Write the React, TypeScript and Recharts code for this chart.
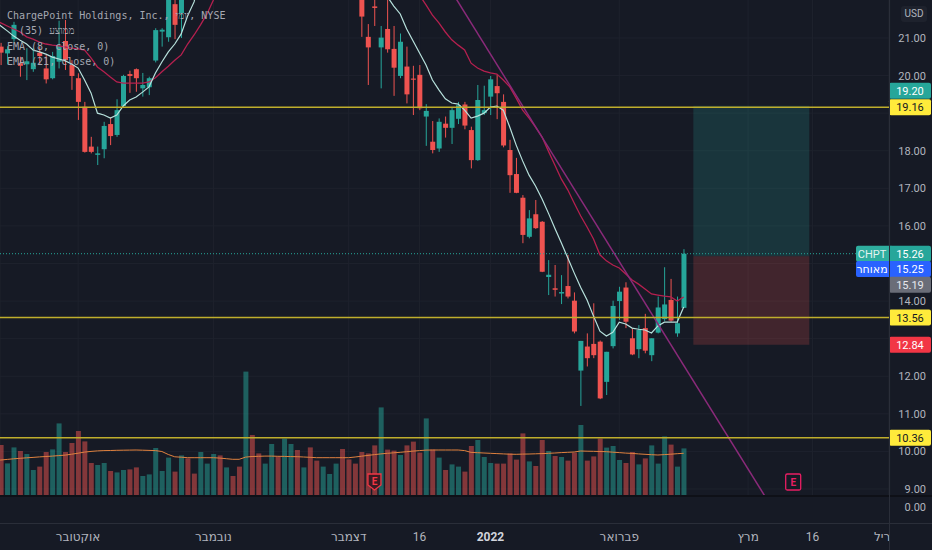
import React from "react";
import {
  ComposedChart,
  Bar,
  Line,
  XAxis,
  YAxis,
  CartesianGrid,
  ReferenceLine,
  ReferenceArea,
  ReferenceDot,
  Cell,
  Tooltip,
} from "recharts";

const BG = "#161a25";
const UP = "#26a69a";
const DOWN = "#ef5350";
const TEXT = "#b2b5be";
const GRID = "#1e222d";
const BORDER = "#2a2e39";
const LEVEL = "#bfae2c";
const FONT = "Roboto, 'DejaVu Sans', sans-serif";

// daily candles, one bar left of the frame through Feb 15 2022
// (off-screen ones estimated)
const opens = [
  20.95,
  20.77, 20.59, 20.97, 20.33, 20.3, 20.17, 20.61, 20.19, 19.93, 20.37,
  20.92, 20.28, 19.93, 19.17, 18.11, 17.89, 18.04, 18.71, 18.42, 19.19,
  20.04, 20.17, 19.66, 19.69, 20.4, 21.17, 21.02, 21.9, 21.66, 24.2,
  23.5, 23.2, 25.5, 27.6, 31.0, 29.8, 32.3, 31.2, 31.0, 38.5,
  36.2, 35.4, 38.5, 44.5, 42.8, 47.2, 47.5, 42.0, 43.5, 38.5,
  33.5, 34.5, 33.0, 33.5, 29.0, 25.8, 23.2, 21.03, 21.84, 20.75,
  21.24, 20.71, 19.99, 20.24, 19.92, 20.02, 18.91, 18.24, 18.06, 18.72,
  18.61, 18.85, 19.23, 18.55, 17.75, 19.0, 19.44, 19.72, 19.3, 18.02,
  17.38, 16.75, 15.71, 16.31, 16.11, 14.64, 14.34, 14.2, 14.4, 14.01,
  12.15, 12.79, 12.86, 12.92, 11.85, 12.8, 14.0, 14.36, 13.01, 12.72,
  13.28, 12.56, 13.16, 13.52, 14.03, 13.14, 13.82,
];
const highs = [
  21.2,
  20.87, 20.78, 21.43, 20.5, 20.73, 20.73, 20.77, 20.55, 20.63, 21.46,
  21.48, 20.41, 20.06, 19.3, 18.37, 18.11, 18.77, 18.89, 19.37, 20.02,
  20.13, 20.19, 20.07, 19.97, 21.26, 21.26, 22.6, 22.4, 23.9, 24.8,
  24.0, 25.6, 27.8, 30.9, 31.8, 32.5, 33.0, 31.8, 39.0, 39.5,
  37.0, 38.6, 44.0, 46.0, 47.8, 49.5, 47.9, 45.0, 44.0, 39.5,
  36.0, 36.5, 34.5, 34.0, 29.6, 26.4, 23.6, 21.37, 22.3, 21.32,
  22.05, 21.32, 21.12, 20.77, 20.26, 20.28, 19.24, 18.79, 18.86, 18.91,
  19.16, 19.3, 19.3, 18.64, 19.75, 19.73, 19.99, 20.02, 19.5, 18.29,
  17.81, 16.82, 16.42, 16.69, 16.13, 15.09, 14.96, 14.69, 15.23, 14.23,
  12.94, 13.14, 13.94, 12.95, 12.65, 14.01, 14.38, 14.5, 13.28, 13.36,
  13.66, 13.01, 14.12, 14.9, 14.59, 14.12, 15.38,
];
const lows = [
  20.6,
  20.28, 20.3, 20.9, 19.97, 19.88, 20.1, 20.28, 19.79, 19.9, 20.19,
  20.15, 19.62, 18.82, 17.95, 17.93, 17.62, 17.8, 18.15, 18.37, 19.15,
  19.54, 19.57, 19.44, 19.48, 20.35, 20.77, 20.9, 20.97, 21.0, 23.0,
  22.6, 23.0, 25.2, 27.2, 29.0, 29.4, 30.4, 29.6, 30.8, 35.2,
  34.5, 35.0, 38.0, 41.5, 42.3, 45.5, 41.5, 41.2, 38.5, 34.5,
  33.0, 34.0, 32.5, 29.0, 25.5, 23.0, 21.03, 19.75, 21.32, 19.66,
  20.61, 19.46, 19.93, 19.26, 18.95, 19.08, 18.13, 17.93, 17.97, 18.35,
  18.18, 18.71, 18.57, 17.53, 17.73, 18.95, 18.95, 18.84, 18.09, 16.88,
  16.87, 15.54, 15.67, 15.92, 14.77, 14.16, 14.12, 13.92, 14.07, 13.14,
  11.21, 12.26, 12.48, 11.39, 11.5, 12.74, 13.5, 13.28, 12.56, 12.48,
  12.61, 12.4, 13.14, 13.47, 13.45, 13.05, 13.82,
];
const closes = [
  20.75,
  20.61, 20.7, 21.35, 20.26, 20.38, 20.34, 20.52, 19.9, 20.52, 20.79,
  20.41, 19.99, 19.3, 17.97, 17.97, 17.93, 18.66, 18.39, 19.08, 19.99,
  19.99, 19.93, 19.75, 19.93, 21.21, 21.22, 22.4, 21.35, 23.6, 23.4,
  22.9, 25.3, 27.4, 30.5, 29.5, 32.1, 31.0, 30.2, 38.0, 36.0,
  35.2, 38.2, 43.5, 42.2, 47.0, 48.6, 42.2, 44.2, 39.0, 35.0,
  35.5, 35.8, 34.0, 29.5, 26.0, 23.4, 21.57, 20.75, 21.8, 21.01,
  20.7, 20.21, 20.9, 19.5, 19.89, 19.13, 19.06, 18.02, 18.77, 18.61,
  19.08, 19.21, 18.67, 17.75, 19.35, 19.08, 19.9, 19.53, 18.14, 17.35,
  16.88, 15.76, 16.2, 15.94, 14.78, 14.7, 14.3, 14.24, 14.12, 13.19,
  12.94, 12.48, 12.56, 11.41, 12.65, 13.87, 14.25, 13.45, 12.58, 13.23,
  12.68, 13.01, 13.83, 13.91, 13.48, 13.41, 15.26,
];
// volume in millions
const volumes = [
  21,
  25.5, 16.3, 24.3, 22.5, 21, 13, 14.7, 22, 23.3, 36.3,
  22, 26.5, 32.5, 27.3, 16.5, 15.5, 16.5, 12.5, 11.8, 13,
  13.3, 14.3, 10, 10.8, 24, 12.5, 19.2, 12.2, 20.3, 18.8,
  11.2, 22, 16.2, 21, 20.3, 14.3, 10, 14.7, 62.2, 30.5,
  21.3, 16.2, 26, 19.7, 28.7, 26, 23, 14.3, 24.3, 17.7,
  14.7, 11, 16.2, 23.5, 18.3, 16.2, 22, 21.3, 25.3, 44.3,
  23.2, 22.7, 20.5, 25.3, 27.2, 21.7, 38.8, 23.2, 19.2, 13,
  15.8, 14.7, 12.2, 25, 28, 19.5, 16.5, 16.2, 16.2, 21.3,
  18.2, 31.3, 17.3, 15, 28, 22.5, 20, 19.5, 17.7, 21.7,
  35.5, 17.7, 19.8, 28.7, 24.2, 25, 18, 16.5, 22, 15.8,
  18.8, 25.3, 16.2, 29.8, 25.7, 14.7, 23.8,
];
const ema8 = [
  21.45,
  21.32, 21.19, 21.05, 20.94, 20.84, 20.68, 20.63, 20.57, 20.49, 20.44,
  20.39, 20.31, 20.2, 19.88, 19.54, 19.0, 18.95, 18.87, 18.95, 19.19,
  19.35, 19.43, 19.56, 19.7, 20.07, 20.36, 20.63, 20.84, 21.11, 21.59,
  21.96, 22.7, 23.7, 25.2, 26.2, 27.4, 28.2, 28.6, 30.7, 31.9,
  32.6, 33.8, 35.9, 37.3, 39.4, 41.4, 41.6, 42.2, 41.5, 40.0,
  39.0, 38.3, 36.5, 34.5, 31.5, 28.0, 25.5, 23.8, 22.9, 22.4,
  22.1, 21.85, 21.64, 21.24, 20.92, 20.6, 20.28, 19.88, 19.62, 19.38,
  19.27, 19.24, 19.08, 18.87, 18.92, 19.0, 19.16, 19.19, 19.08, 18.63,
  18.15, 17.73, 17.35, 17.06, 16.72, 16.34, 15.94, 15.55, 15.15, 14.75,
  14.37, 14.03, 13.6, 13.2, 13.07, 13.17, 13.44, 13.39, 13.28, 13.25,
  13.23, 13.15, 13.34, 13.44, 13.44, 13.44, 13.84,
];
const ema21 = [
  21.48,
  21.4, 21.32, 21.24, 21.16, 21.03, 20.97, 20.89, 20.84, 20.81, 20.79,
  20.76, 20.73, 20.71, 20.68, 20.47, 20.23, 20.1, 19.96, 19.83, 19.8,
  19.8, 19.8, 19.8, 19.83, 19.94, 20.1, 20.25, 20.41, 20.55, 20.84,
  21.08, 21.35, 21.64, 22.01, 22.4, 22.9, 23.4, 23.8, 24.9, 25.9,
  26.6, 27.6, 29.0, 30.1, 31.6, 33.1, 33.9, 34.8, 35.2, 35.2,
  35.2, 35.0, 34.6, 33.6, 32.3, 30.9, 29.5, 28.0, 26.8, 25.6,
  24.5, 23.7, 23.1, 22.7, 22.4, 22.14, 21.88, 21.61, 21.4, 21.16,
  20.95, 20.81, 20.68, 20.33, 20.2, 20.12, 20.07, 20.04, 19.88, 19.7,
  19.4, 19.08, 18.87, 18.63, 18.37, 17.99, 17.62, 17.25, 16.96, 16.61,
  16.27, 15.97, 15.65, 15.23, 15.07, 14.96, 14.88, 14.72, 14.56, 14.45,
  14.32, 14.19, 14.16, 14.13, 14.11, 14.0, 14.11,
];
const volMa = [
  17.8,
  18.0, 18.3, 18.6, 18.85, 19.1, 19.3, 19.55, 19.75, 19.95, 20.2,
  20.45, 20.9, 21.4, 21.95, 22.3, 22.55, 22.7, 22.75, 22.85, 22.9,
  22.95, 23.0, 22.9, 22.8, 22.7, 22.25, 20.75, 19.6, 19.4, 19.15,
  19.15, 19.15, 19.15, 19.15, 18.95, 18.65, 18.35, 18.35, 19.45, 19.75,
  19.85, 19.95, 19.95, 19.85, 19.8, 19.7, 19.65, 19.5, 19.35, 19.15,
  19.15, 19.15, 19.15, 19.15, 19.15, 19.5, 19.9, 20.3, 20.7, 21.05,
  21.35, 21.6, 21.85, 22.15, 22.45, 22.7, 22.95, 23.0, 23.0, 23.0,
  23.0, 23.0, 22.7, 21.8, 21.65, 21.5, 21.35, 21.2, 21.05, 20.9,
  20.85, 20.95, 21.0, 21.1, 21.2, 21.35, 21.5, 21.7, 21.85, 22.0,
  22.5, 22.4, 22.35, 22.25, 22.15, 21.9, 21.7, 21.45, 21.3, 21.05,
  20.85, 20.65, 20.5, 20.7, 20.9, 21.15, 21.35,
];

const FIRST_INDEX = -1; // the first bar sits just left of the frame
const LAST_SLOT = 138; // empty future slots run up to here
const timeLabelIdx = [12, 33, 54, 65, 76, 96, 116, 126, 138];
const timeLabelText = ["אוקטובר", "נובמבר", "דצמבר", "16", "2022", "פברואר", "מרץ", "16", "אפריל"];
// 13, 15 and 19 are covered by the price tags on the axis
const priceTicks = [9, 10, 11, 12, 14, 16, 17, 18, 20, 21];
const gridPrices = [9, 10, 11, 12, 13, 14, 15, 16, 17, 18, 19, 20, 21];

const rows = Array.from({ length: LAST_SLOT - FIRST_INDEX + 1 }, (_, k) =>
  k < opens.length
    ? {
        i: k + FIRST_INDEX,
        open: opens[k],
        high: highs[k],
        low: lows[k],
        close: closes[k],
        vol: volumes[k],
        ema8: ema8[k],
        ema21: ema21[k],
        volMa: volMa[k],
      }
    : { i: k + FIRST_INDEX }
);

const Candle = (props: any) => {
  const { x, y, width, height, payload, value } = props;
  if (!payload || payload.high == null || height == null) return <g />;
  const { open, close, low } = payload;
  const hi = typeof value === "number" ? value : Array.isArray(value) ? value[1] : payload.high;
  if (!(hi > low)) return <g />;
  const top = Math.min(y, y + height);
  const h = Math.abs(height);
  const k = h / (hi - low);
  const py = (p: number) => top + (hi - p) * k;
  const color = close >= open ? UP : DOWN;
  const cx = x + width / 2;
  const bTop = py(Math.max(open, close));
  const bH = Math.max(1, Math.abs(py(open) - py(close)));
  return (
    <g>
      <line x1={cx} x2={cx} y1={py(payload.high)} y2={top + h} stroke={color} strokeWidth={1} />
      <rect x={x} y={bTop} width={width} height={bH} fill={color} />
    </g>
  );
};

const TimeTick = (props: any) => {
  const { x, payload } = props;
  const label = timeLabelText[timeLabelIdx.indexOf(payload.value)];
  const isYear = label === "2022";
  return (
    <svg x={0} y={524} width={889} height={26} overflow="hidden">
      <text
        x={x}
        y={17}
        textAnchor="middle"
        fontSize={12}
        fontFamily={FONT}
        fill={isYear ? "#d1d4dc" : TEXT}
        fontWeight={isYear ? 700 : 400}
      >
        {label}
      </text>
    </svg>
  );
};

const PriceTick = (props: any) => (
  <text x={926} y={props.y} dy="0.36em" textAnchor="end" fontSize={11} fontFamily={FONT} fill={TEXT}>
    {Number(props.payload.value).toFixed(2)}
  </text>
);

type TagOpts = {
  text: string;
  bg: string;
  color: string;
  shift?: number;
  name?: string;
  nameBg?: string;
  nameColor?: string;
};

const tag = (o: TagOpts) => (props: any) => {
  const vb = props.viewBox || {};
  const cy = (vb.y ?? 0) + (o.shift ?? 0);
  return (
    <g fontFamily={FONT} fontSize={11}>
      {o.name && (
        <>
          <rect x={856} y={cy - 8} width={37} height={16} rx={2} fill={o.nameBg} />
          <text x={872} y={cy} dy="0.36em" textAnchor="middle" fill={o.nameColor}>
            {o.name}
          </text>
        </>
      )}
      <rect x={889} y={cy - 8} width={42} height={16} rx={2} fill={o.bg} />
      <text x={910} y={cy} dy="0.36em" textAnchor="middle" fill={o.color}>
        {o.text}
      </text>
    </g>
  );
};

const EarningsShield = (props: any) => {
  const { cx, cy } = props;
  return (
    <g>
      <path
        d={`M${cx - 6.5},${cy - 8} h13 v11 l-6.5,5 l-6.5,-5 z`}
        fill="#3a1b22"
        stroke="#f23645"
        strokeWidth={1.3}
      />
      <text x={cx} y={cy - 1} dy="0.36em" textAnchor="middle" fontSize={10} fontWeight={700} fontFamily={FONT} fill="#f23645">
        E
      </text>
    </g>
  );
};

const EarningsBox = (props: any) => {
  const { cx, cy } = props;
  return (
    <g>
      <rect x={cx - 7.5} y={cy - 8} width={15} height={16} rx={1.5} fill={BG} stroke="#e91e63" strokeWidth={1.3} />
      <text x={cx} y={cy} dy="0.36em" textAnchor="middle" fontSize={10} fontWeight={700} fontFamily={FONT} fill="#e91e63">
        E
      </text>
    </g>
  );
};

// 140 slots of ~6.44px; bar 0 is centred right at the left edge of the plot
const axisPadding = { left: -8.84, right: -4.05 };

export default function App() {
  return (
    <div
      style={{
        position: "fixed",
        left: 0,
        top: 0,
        width: 932,
        height: 550,
        background: BG,
        overflow: "hidden",
        pointerEvents: "none",
      }}
    >
      <ComposedChart
        width={932}
        height={550}
        data={rows}
        margin={{ top: 0, right: 0, bottom: 0, left: 0 }}
        accessibilityLayer={false}
        style={{ pointerEvents: "none" }}
      >
        <XAxis
          xAxisId="main"
          dataKey="i"
          type="category"
          height={54}
          padding={axisPadding}
          axisLine={false}
          tickLine={false}
          ticks={timeLabelIdx}
          interval={0}
          tick={<TimeTick />}
        />
        <XAxis xAxisId="v" dataKey="i" type="category" hide padding={axisPadding} />
        <YAxis
          yAxisId="price"
          orientation="right"
          width={43}
          type="number"
          domain={[8.813, 22.011]}
          allowDataOverflow
          ticks={priceTicks}
          interval={0}
          axisLine={false}
          tickLine={false}
          tick={<PriceTick />}
        />
        <YAxis yAxisId="vol" hide type="number" domain={[0, 248]} allowDataOverflow />
        <CartesianGrid xAxisId="main" yAxisId="price" stroke={GRID} strokeWidth={1} horizontalValues={gridPrices} />
        <Tooltip active={false} cursor={false} content={() => null} />

        <ReferenceArea
          xAxisId="main"
          yAxisId="price"
          x1={108}
          x2={125}
          y1={15.19}
          y2={19.2}
          fill={UP}
          fillOpacity={0.2}
          stroke="none"
        />
        <ReferenceArea
          xAxisId="main"
          yAxisId="price"
          x1={108}
          x2={125}
          y1={12.84}
          y2={15.19}
          fill={DOWN}
          fillOpacity={0.2}
          stroke="none"
        />

        <Bar xAxisId="v" yAxisId="vol" dataKey="vol" barSize={5} isAnimationActive={false} activeBar={false}>
          {rows.map((r: any) => (
            <Cell key={r.i} fill={r.close >= r.open ? UP : DOWN} fillOpacity={0.5} />
          ))}
        </Bar>
        <Line
          xAxisId="main"
          yAxisId="vol"
          dataKey="volMa"
          stroke="#e0823f"
          strokeWidth={1}
          dot={false}
          activeDot={false}
          isAnimationActive={false}
        />
        <Bar
          xAxisId="main"
          yAxisId="price"
          dataKey={(d: any) => (d.high == null ? null : [d.low, d.high])}
          barSize={5}
          shape={<Candle />}
          activeBar={false}
          isAnimationActive={false}
        />
        <Line
          xAxisId="main"
          yAxisId="price"
          dataKey="ema21"
          stroke="#b5204f"
          strokeWidth={1.3}
          dot={false}
          activeDot={false}
          isAnimationActive={false}
        />
        <Line
          xAxisId="main"
          yAxisId="price"
          dataKey="ema8"
          stroke="#b7e1dc"
          strokeWidth={1.2}
          dot={false}
          activeDot={false}
          isAnimationActive={false}
        />

        <ReferenceLine
          xAxisId="main"
          yAxisId="price"
          segment={[
            { x: 70, y: 22.23 },
            { x: 119, y: 8.7 },
          ]}
          stroke="#8a2a7a"
          strokeWidth={1.5}
          ifOverflow="hidden"
        />
        <ReferenceLine
          xAxisId="main"
          yAxisId="price"
          y={15.26}
          stroke={UP}
          strokeDasharray="1 2"
          strokeWidth={1}
          label={tag({ text: "15.26", bg: UP, color: "#ffffff", name: "CHPT", nameBg: "#2fae9f", nameColor: "#e4f3f1" })}
        />
        <ReferenceLine xAxisId="main" yAxisId="price" y={19.16} stroke={LEVEL} strokeWidth={1.5} label={tag({ text: "19.16", bg: "#ffeb3b", color: "#131722" })} />
        <ReferenceLine xAxisId="main" yAxisId="price" y={13.56} stroke={LEVEL} strokeWidth={1.5} label={tag({ text: "13.56", bg: "#ffeb3b", color: "#131722" })} />
        <ReferenceLine xAxisId="main" yAxisId="price" y={10.36} stroke={LEVEL} strokeWidth={1.5} label={tag({ text: "10.36", bg: "#ffeb3b", color: "#131722" })} />
        <ReferenceLine xAxisId="main" yAxisId="price" y={19.2} strokeOpacity={0} label={tag({ text: "19.20", bg: UP, color: "#ffffff", shift: -15 })} />
        <ReferenceLine
          xAxisId="main"
          yAxisId="price"
          y={15.25}
          strokeOpacity={0}
          label={tag({ text: "15.25", bg: "#2962ff", color: "#ffffff", shift: 15, name: "מאוחר", nameBg: "#2962ff", nameColor: "#ffffff" })}
        />
        <ReferenceLine xAxisId="main" yAxisId="price" y={15.19} strokeOpacity={0} label={tag({ text: "15.19", bg: "#6a6d78", color: "#e6e8ee", shift: 28.5 })} />
        <ReferenceLine xAxisId="main" yAxisId="price" y={12.84} strokeOpacity={0} label={tag({ text: "12.84", bg: "#f23645", color: "#ffffff" })} />

        <ReferenceDot xAxisId="main" yAxisId="vol" x={58} y={7} shape={<EarningsShield />} />
        <ReferenceDot xAxisId="main" yAxisId="vol" x={123} y={7} shape={<EarningsBox />} />
      </ComposedChart>

      {/* pane borders */}
      <div style={{ position: "absolute", left: 0, top: 495, width: 932, height: 2, background: "#0e1017" }} />
      <div style={{ position: "absolute", left: 0, top: 523, width: 932, height: 1, background: BORDER }} />
      <div style={{ position: "absolute", left: 889, top: 0, width: 1, height: 550, background: BORDER }} />
      <div
        style={{
          position: "absolute",
          right: 6,
          top: 501,
          font: `11px ${FONT}`,
          color: TEXT,
        }}
      >
        0.00
      </div>
      <div
        style={{
          position: "absolute",
          left: 901,
          top: 6,
          width: 26,
          height: 16,
          borderRadius: 3,
          background: "#1e222d",
          font: `10px ${FONT}`,
          color: TEXT,
          textAlign: "center",
          lineHeight: "16px",
        }}
      >
        USD
      </div>

      {/* legend */}
      <div
        style={{
          position: "absolute",
          left: 7,
          top: 8,
          font: `10px "DejaVu Sans Mono", monospace`,
          color: "#a5a8b1",
          lineHeight: "15.4px",
          whiteSpace: "pre",
        }}
      >
        <div>ChargePoint Holdings, Inc., יומי, NYSE</div>
        <div>{"  (35) ממוצע"}</div>
        <div>EMA (8, close, 0)</div>
        <div>EMA (21, close, 0)</div>
      </div>
    </div>
  );
}
